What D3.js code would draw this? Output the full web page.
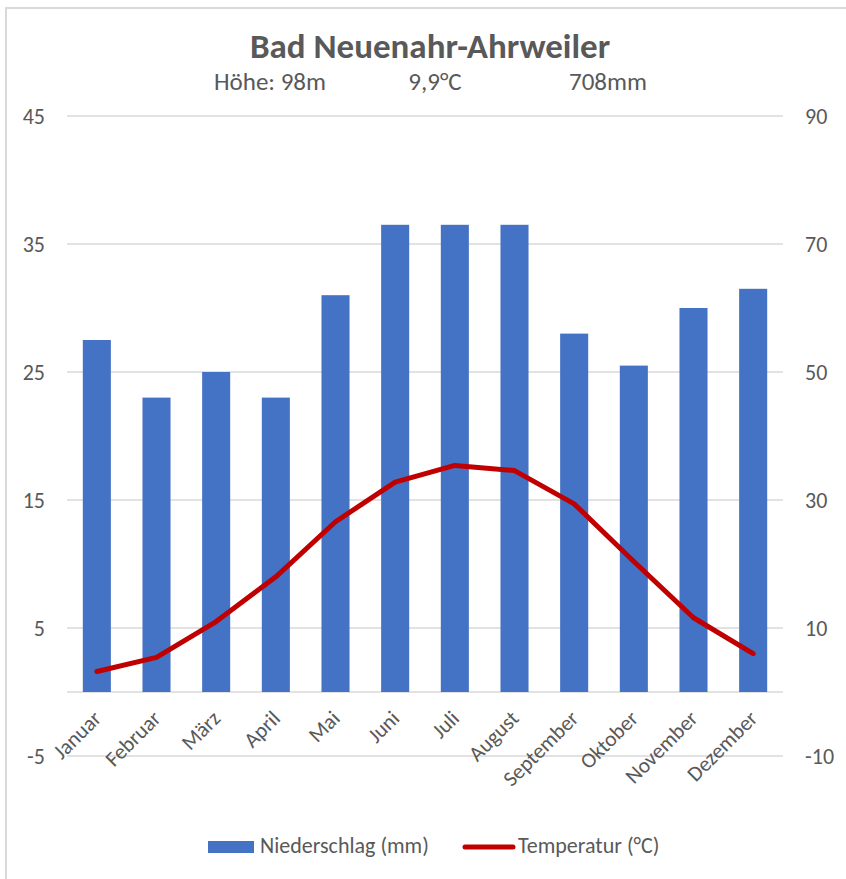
<!DOCTYPE html>
<html>
<head>
<meta charset="utf-8">
<script src="https://cdn.jsdelivr.net/npm/d3@7"></script>
<style>
  body { margin: 0; background: #fff; }
  text { font-family: Carlito, "Liberation Sans Narrow", "Open Sans", sans-serif; fill: #595959; }
</style>
</head>
<body>
<div id="chart"></div>
<script>
// Data
var months = ["Januar", "Februar", "März", "April", "Mai", "Juni", "Juli", "August", "September", "Oktober", "November", "Dezember"];
var niederschlag = [55, 46, 50, 46, 62, 73, 73, 73, 56, 51, 60, 63];
var temperatur = [1.6, 2.7, 5.5, 9.0, 13.3, 16.4, 17.7, 17.3, 14.7, 10.2, 5.8, 3.0];
var leftTicks = [-5, 5, 15, 25, 35, 45];
var rightTicks = [-10, 10, 30, 50, 70, 90];

var svgWidth = 846;
var svgHeight = 879;

var margin = { top: 116, right: 63, bottom: 123, left: 67 };
var width = svgWidth - margin.left - margin.right;
var height = svgHeight - margin.top - margin.bottom;

var svg = d3.select("#chart")
    .append("svg")
    .attr("width", svgWidth)
    .attr("height", svgHeight);

// chart border (right / bottom edges fall outside the picture)
svg.append("rect")
    .attr("x", 6).attr("y", 8)
    .attr("width", 860).attr("height", 900)
    .attr("fill", "none")
    .attr("stroke", "#d9d9d9")
    .attr("stroke-width", 2);

var chartGroup = svg.append("g")
    .attr("transform", `translate(${margin.left}, ${margin.top})`);

// scales
var xScale = d3.scaleBand()
    .domain(months)
    .range([0, width])
    .paddingInner(0.53)
    .paddingOuter(0.265);

var xPoint = function(m) { return xScale(m) + xScale.bandwidth() / 2; };

var yLeft = d3.scaleLinear().domain([-5, 45]).range([height, 0]);
var yRight = d3.scaleLinear().domain([-10, 90]).range([height, 0]);

// gridlines
chartGroup.selectAll(".grid")
    .data(leftTicks)
    .enter().append("line")
    .attr("class", "grid")
    .attr("x1", 0).attr("x2", width)
    .attr("y1", function(d) { return yLeft(d); })
    .attr("y2", function(d) { return yLeft(d); })
    .attr("stroke", "#d9d9d9")
    .attr("stroke-width", 1.5);

// zero line
chartGroup.append("line")
    .attr("x1", 0).attr("x2", width)
    .attr("y1", yLeft(0)).attr("y2", yLeft(0))
    .attr("stroke", "#d9d9d9")
    .attr("stroke-width", 1.5);

// axes (plain hyphen for negatives, like Excel)
var fmt = function(d) { return String(d); };
var leftAxis = d3.axisLeft(yLeft).tickValues(leftTicks).tickFormat(fmt).tickSize(0).tickPadding(22);
var rightAxis = d3.axisRight(yRight).tickValues(rightTicks).tickFormat(fmt).tickSize(0).tickPadding(22);

var gl = chartGroup.append("g").call(leftAxis);
gl.select(".domain").remove();
gl.selectAll("text").style("font-size", "22px").style("fill", "#595959");

var gr = chartGroup.append("g").attr("transform", `translate(${width}, 0)`).call(rightAxis);
gr.select(".domain").remove();
gr.selectAll("text").style("font-size", "22px").style("fill", "#595959");

// bars
chartGroup.selectAll(".bar")
    .data(months)
    .enter().append("rect")
    .attr("class", "bar")
    .attr("x", function(d) { return xScale(d); })
    .attr("width", xScale.bandwidth())
    .attr("y", function(d, i) { return yRight(niederschlag[i]); })
    .attr("height", function(d, i) { return yRight(0) - yRight(niederschlag[i]); })
    .attr("fill", "#4472c4");

// temperature line
var line = d3.line()
    .x(function(d, i) { return xPoint(months[i]); })
    .y(function(d) { return yLeft(d); });

chartGroup.append("path")
    .datum(temperatur)
    .attr("d", line)
    .attr("fill", "none")
    .attr("stroke", "#c00000")
    .attr("stroke-width", 5)
    .attr("stroke-linejoin", "round")
    .attr("stroke-linecap", "round");

// month labels
chartGroup.selectAll(".mlabel")
    .data(months)
    .enter().append("text")
    .attr("class", "mlabel")
    .attr("transform", function(d) { return `translate(${xPoint(d) - 5}, ${yLeft(0) + 17}) rotate(-45)`; })
    .attr("text-anchor", "end")
    .attr("dy", "0.7em")
    .style("font-size", "21.5px")
    .text(function(d) { return d; });

// title
svg.append("text")
    .attr("x", 430).attr("y", 58)
    .attr("text-anchor", "middle")
    .style("font-size", "35px")
    .style("font-weight", "bold")
    .text("Bad Neuenahr-Ahrweiler");

svg.append("text").attr("x", 270).attr("y", 90).attr("text-anchor", "middle")
    .style("font-size", "25px").text("Höhe: 98m");
svg.append("text").attr("x", 435).attr("y", 90).attr("text-anchor", "middle")
    .style("font-size", "25px").text("9,9°C");
svg.append("text").attr("x", 608).attr("y", 90).attr("text-anchor", "middle")
    .style("font-size", "25px").text("708mm");

// legend
var legend = svg.append("g");
legend.append("rect")
    .attr("x", 208).attr("y", 841)
    .attr("width", 46).attr("height", 12)
    .attr("fill", "#4472c4");
legend.append("text")
    .attr("x", 260).attr("y", 853)
    .style("font-size", "22px")
    .text("Niederschlag (mm)");
legend.append("line")
    .attr("x1", 465).attr("x2", 513)
    .attr("y1", 847).attr("y2", 847)
    .attr("stroke", "#c00000")
    .attr("stroke-width", 5)
    .attr("stroke-linecap", "round");
legend.append("text")
    .attr("x", 518).attr("y", 853)
    .style("font-size", "22px")
    .text("Temperatur (°C)");
</script>
</body>
</html>
